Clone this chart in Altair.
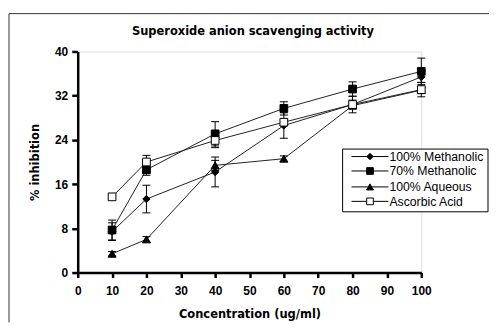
import altair as alt
import pandas as pd

conc = [10, 20, 40, 60, 80, 100]
series = ["100% Methanolic", "70% Methanolic", "100% Aqueous", "Ascorbic Acid"]
meth100 = [7.4, 13.3, 18.2, 26.6, 30.4, 35.4]
meth100_err = [1.6, 2.5, 2.7, 2.3, 0.8, 1.0]
meth70 = [7.7, 18.6, 25.1, 29.7, 33.2, 36.4]
meth70_err = [1.8, 1.0, 2.2, 1.2, 1.3, 2.4]
aqueous = [3.4, 6.0, 19.4, 20.6, 30.2, 33.0]
aqueous_err = [0.4, 0.5, 0.9, 0.5, 0.5, 0.5]
ascorbic = [13.7, 20.0, 23.9, 27.2, 30.4, 33.1]
ascorbic_err = [0.3, 1.2, 1.3, 0.6, 1.5, 1.3]
x_ticks = [0, 10, 20, 30, 40, 50, 60, 70, 80, 90, 100]
y_ticks = [0, 8, 16, 24, 32, 40]
title_text = "Superoxide anion scavenging activity"

vals = [meth100, meth70, aqueous, ascorbic]
errs = [meth100_err, meth70_err, aqueous_err, ascorbic_err]
shapes = ["diamond", "square", "triangle-up", "square"]
fills = ["black", "black", "black", "white"]
sizes = [55, 60, 65, 60]

rows = []
for s, v, e in zip(series, vals, errs):
    for c, yv, ev in zip(conc, v, e):
        rows.append({"series": s, "conc": c, "val": yv, "lo": yv - ev, "hi": yv + ev})
df = pd.DataFrame(rows)

W, H = 345, 222
xs = alt.Scale(domain=[0, 100], nice=False, zero=True)
ys = alt.Scale(domain=[0, 40], nice=False)

FONT = "Liberation Sans"
TFONT = "DejaVu Sans"

xaxis = alt.Axis(
    values=x_ticks, title="Concentration (ug/ml)", grid=False, domainWidth=2.5, domainColor="black",
    tickColor="black", tickWidth=2.5, tickSize=5, labelFont=FONT, labelFontWeight="bold",
    labelFontSize=12, labelColor="black", labelPadding=8, labelOverlap=False, labelFlush=False,
    titleFont=TFONT, titleFontWeight="bold",
    titleFontSize=11.5, titleColor="black", titlePadding=12)
yaxis = alt.Axis(
    values=y_ticks, title="% inhibition", grid=False, domainWidth=2.5, domainColor="black",
    tickColor="black", tickWidth=2.5, tickSize=6, labelFont=FONT, labelFontWeight="bold",
    labelFontSize=12, labelColor="black", labelPadding=4, labelOverlap=False, labelFlush=False,
    titleFont=TFONT, titleFontWeight="bold",
    titleFontSize=11.5, titleColor="black", titlePadding=14)


def X(field="conc"):
    return alt.X(f"{field}:Q", scale=xs, axis=xaxis)


def Y(field="val"):
    return alt.Y(f"{field}:Q", scale=ys, axis=yaxis)


layers = []
for s in series:
    d = df[df.series == s]
    layers.append(alt.Chart(d).mark_line(color="#222222", strokeWidth=1).encode(x=X(), y=Y()))
for s in series:
    d = df[df.series == s]
    layers.append(alt.Chart(d).mark_rule(color="black", strokeWidth=1).encode(
        x=X(), y=Y("lo"), y2="hi:Q"))
    for col in ["lo", "hi"]:
        layers.append(alt.Chart(d).mark_rule(color="black", strokeWidth=1, xOffset=-4, x2Offset=4).encode(
            x=X(), x2="conc:Q", y=Y(col)))
for s, sh, f, sz in zip(series, shapes, fills, sizes):
    d = df[df.series == s]
    layers.append(alt.Chart(d).mark_point(shape=sh, fill=f, stroke="black", strokeWidth=1,
                                          opacity=1, filled=False, fillOpacity=1, size=sz).encode(
        x=X(), y=Y()))

# outer frame (top and left edges visible)
base = alt.Chart(pd.DataFrame({"title": [title_text]}))
layers.append(base.mark_rule(color="#333333", strokeWidth=1).encode(
    x=alt.value(-69), x2=alt.value(413), y=alt.value(-38)))
layers.append(base.mark_rule(color="#333333", strokeWidth=1).encode(
    x=alt.value(-69), y=alt.value(-38), y2=alt.value(272)))
# chart title
layers.append(base.mark_text(align="center", baseline="middle", font=TFONT, fontSize=11.5,
                             fontWeight="bold", color="black").encode(
    x=alt.value(176), y=alt.value(-20), text="title:N"))

# manual legend
layers.append(base.mark_rect(fill="white", stroke="black", strokeWidth=1).encode(
    x=alt.value(266), x2=alt.value(412), y=alt.value(98), y2=alt.value(161)))
leg_y = [105.5, 120, 136, 150.5]
for s, sh, f, sz, ly in zip(series, shapes, fills, sizes, leg_y):
    lb = alt.Chart(pd.DataFrame({"series": [s]}))
    layers.append(lb.mark_rule(color="black", strokeWidth=1).encode(
        x=alt.value(275), x2=alt.value(312), y=alt.value(ly)))
    layers.append(lb.mark_point(shape=sh, fill=f, stroke="black", strokeWidth=1, opacity=1,
                                fillOpacity=1, size=sz * 0.75).encode(
        x=alt.value(293.5), y=alt.value(ly)))
    layers.append(lb.mark_text(align="left", baseline="middle", font=FONT, fontSize=12.3,
                               color="black").encode(
        x=alt.value(313), y=alt.value(ly + 0.5), text="series:N"))

chart = alt.layer(*layers).properties(
    width=W, height=H,
    padding={"left": 0, "top": 4, "right": 0, "bottom": 0},
).configure_view(stroke=None).configure(background="white")

chart.save("out.html", embed_options={"renderer": "svg", "actions": False})
